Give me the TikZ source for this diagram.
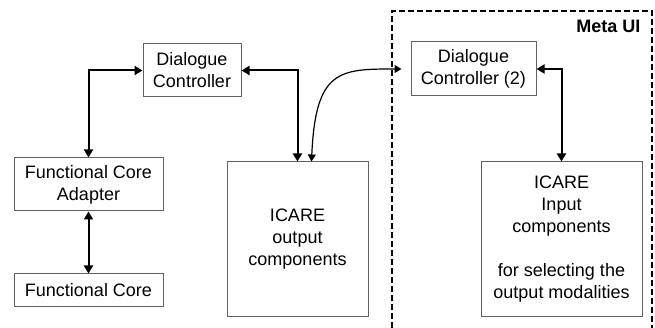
\documentclass[tikz,border=0pt]{standalone}
\usepackage{fontspec}
\setmainfont{Liberation Sans}
\usetikzlibrary{arrows.meta, positioning}

\begin{document}
\begin{tikzpicture}[
            x = 1pt, y = -1pt, % pixel like units, y going down
            > = {Triangle[length=8pt, width=9pt]}, % arrow head style
            node distance = 62pt, % distance between nodes
            font = \fontsize{18}{22}\selectfont
        ]

        \tikzstyle{box}=[
            draw = black!62,
            line width = 1pt,
            fill = white,
            align = center,
            inner sep = 0pt
        ]
        \tikzstyle{link}=[<->, black, line width = 2pt]

        \useasboundingbox (0,0) rectangle (655,328);

        % meta UI frame
        \coordinate (ml) at (392,328);
        \coordinate (mt) at (652,11);
        \coordinate (mr) at (652,328);
        \draw[black, line width = 1.5pt, dash pattern = on 6pt off 3pt] (ml) |- (mt) -- (mr);
        \node[anchor = east, font = \fontsize{18}{22}\selectfont\bfseries] (meta) at (644,26) {Meta UI};

        \node[box, minimum width = 98pt, minimum height = 53pt] (dc) at (192,70.5) {Dialogue\\Controller};
        \node[box, minimum width = 149pt, minimum height = 53pt] (fca) at (88.5,184.5) {Functional Core\\Adapter};
        \node[box, minimum width = 149pt, minimum height = 32pt] (fc) [below=of fca] {Functional Core};
        \node[box, minimum width = 141pt, minimum height = 154pt] (icout) at (297.5,239) {ICARE\\output\\components};
        \node[box, minimum width = 125pt, minimum height = 54pt] (dctwo) at (473.5,69) {Dialogue\\Controller (2)};
        \node[box, minimum width = 161pt, minimum height = 154pt] (icin) at (561.5,239) {ICARE\\Input\\components\\[22pt]for selecting the\\output modalities};

        \draw[link] (dc.west) -| (fca.north);
        \draw[link] (fca.south) -- (fc.north);
        \draw[link] (dc.east) -| (icout.north);
        \draw[link] (dctwo.east) -| (icin.north);
        \draw[<->, line width = 1.2pt, > = {Triangle[length=7pt, width=8pt]}, shorten > = 9pt]
            ([xshift=14pt]icout.north) .. controls +(4,-92) and +(-71,0) .. (dctwo.west);

  \end{tikzpicture}
\end{document}
